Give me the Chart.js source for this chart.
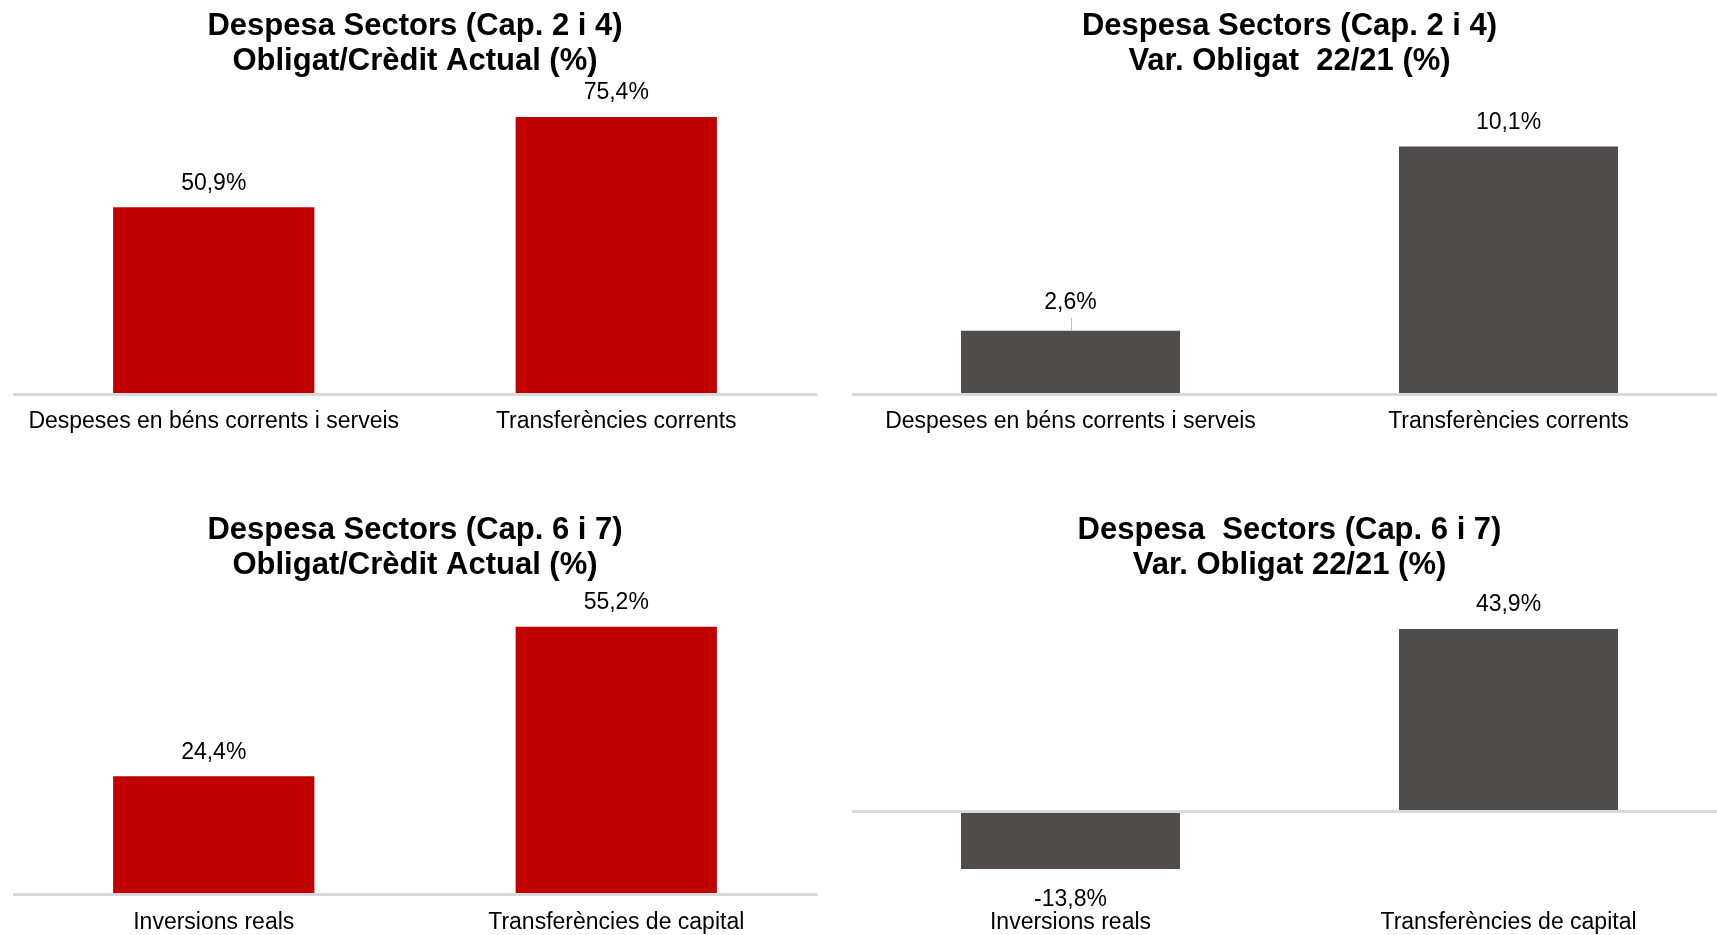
<!DOCTYPE html>
<html>
<head>
<meta charset="utf-8">
<script src="https://cdn.jsdelivr.net/npm/chart.js@4.4.1/dist/chart.umd.min.js"></script>
<style>
  html, body { margin: 0; padding: 0; background: #ffffff; overflow: hidden; width: 1717px; height: 935px; }
  canvas { position: absolute; }
</style>
</head>
<body>
<canvas id="c1" width="845" height="467" style="left:0px;top:0px;"></canvas>
<canvas id="c2" width="890" height="467" style="left:845px;top:0px;"></canvas>
<canvas id="c3" width="845" height="490" style="left:0px;top:467px;"></canvas>
<canvas id="c4" width="890" height="490" style="left:845px;top:467px;"></canvas>
<script>
// ---- Data ----
const categoriesCap24 = ['Despeses en béns corrents i serveis', 'Transferències corrents'];
const categoriesCap67 = ['Inversions reals', 'Transferències de capital'];
const obligatCreditCap24 = [50.9, 75.4];
const varObligatCap24 = [2.6, 10.1];
const obligatCreditCap67 = [24.4, 55.2];
const varObligatCap67 = [-13.8, 43.9];
const titleTL = ['Despesa Sectors (Cap. 2 i 4)', 'Obligat/Crèdit Actual (%)'];
const titleTR = ['Despesa Sectors (Cap. 2 i 4)', 'Var. Obligat  22/21 (%)'];
const titleBL = ['Despesa Sectors (Cap. 6 i 7)', 'Obligat/Crèdit Actual (%)'];
const titleBR = ['Despesa  Sectors (Cap. 6 i 7)', 'Var. Obligat 22/21 (%)'];

const RED = '#C00000';
const GREY = '#504C4C';
const FONT = '"Liberation Sans", Arial, Helvetica, sans-serif';

Chart.defaults.font.family = FONT;
Chart.defaults.color = '#000000';

function fmt(v) { return v.toFixed(1).replace('.', ',') + '%'; }

const valueLabels = {
  id: 'valueLabels',
  afterDatasetsDraw(chart, args, opts) {
    const ctx = chart.ctx;
    const meta = chart.getDatasetMeta(0);
    const data = chart.data.datasets[0].data;
    ctx.save();
    ctx.font = '23px ' + FONT;
    ctx.fillStyle = '#000000';
    ctx.textAlign = 'center';
    ctx.textBaseline = 'middle';
    meta.data.forEach((bar, i) => {
      const v = data[i];
      const lift = (opts.lifts && opts.lifts[i]) || 0;
      const y = v >= 0 ? bar.y - 24 - lift : bar.y + 31;
      if (lift) {
        ctx.strokeStyle = '#bfbfbf';
        ctx.lineWidth = 1;
        ctx.beginPath();
        ctx.moveTo(Math.round(bar.x) + 0.5, y + 15);
        ctx.lineTo(Math.round(bar.x) + 0.5, bar.y);
        ctx.stroke();
      }
      ctx.fillText(fmt(v), bar.x, y);
    });
    ctx.restore();
  }
};

function makeChart(id, cfg) {
  return new Chart(document.getElementById(id), {
    type: 'bar',
    data: {
      labels: cfg.labels,
      datasets: [{
        data: cfg.values,
        backgroundColor: cfg.color,
        borderWidth: 0,
        barPercentage: 0.5,
        categoryPercentage: 1.0
      }]
    },
    options: {
      responsive: false,
      devicePixelRatio: 1,
      animation: false,
      layout: { padding: cfg.pad },
      plugins: {
        legend: { display: false },
        tooltip: { enabled: false },
        title: {
          display: true,
          text: cfg.title,
          color: '#000000',
          font: { size: 31, weight: 'bold', lineHeight: 35 / 31 },
          padding: { top: cfg.titlePadTop, bottom: cfg.titlePadBottom }
        },
        valueLabels: { lifts: cfg.lifts || [] }
      },
      scales: {
        x: {
          grid: { display: false, drawTicks: false },
          border: { display: false },
          ticks: {
            color: '#000000',
            font: { size: 23 },
            padding: cfg.tickPad,
            maxRotation: 0,
            autoSkip: false
          }
        },
        y: {
          min: cfg.ymin,
          max: cfg.ymax,
          display: true,
          afterBuildTicks: (s) => { s.ticks = [{ value: 0 }]; },
          ticks: { display: false },
          border: { display: false },
          grid: {
            drawTicks: false,
            color: '#d9d9d9',
            lineWidth: 3
          }
        }
      }
    },
    plugins: [valueLabels]
  });
}

// Top-left: zero at 394.5, top at 90, 3.68 px/unit
makeChart('c1', {
  labels: categoriesCap24, values: obligatCreditCap24, color: RED, title: titleTL,
  pad: { left: 12.5, right: 27.5, top: 0, bottom: 18.5 },
  titlePadTop: 8.5, titlePadBottom: 11.5,
  ymin: 0, ymax: (394.5 - 90) / 3.68, tickPad: 13.2
});
// Top-right: zero at 394.5, top at 90, 24.55 px/unit
makeChart('c2', {
  labels: categoriesCap24, values: varObligatCap24, color: GREY, title: titleTR,
  pad: { left: 6.5, right: 7.5, top: 0, bottom: 18.5 },
  titlePadTop: 8.5, titlePadBottom: 11.5,
  ymin: 0, ymax: (394.5 - 90) / 24.55, tickPad: 13.2, lifts: [4, 0]
});
// Bottom-left: zero at rel 427.5, top rel 130, 4.85 px/unit
makeChart('c3', {
  labels: categoriesCap67, values: obligatCreditCap67, color: RED, title: titleBL,
  pad: { left: 12.5, right: 27.5, top: 0, bottom: 6.1 },
  titlePadTop: 45.5, titlePadBottom: 14.5,
  ymin: 0, ymax: (427.5 - 130) / 4.85, tickPad: 14.4
});
// Bottom-right: zero at rel 344.5, top rel 130, bottom rel 433.5, 4.16 px/unit
makeChart('c4', {
  labels: categoriesCap67, values: varObligatCap67, color: GREY, title: titleBR,
  pad: { left: 6.5, right: 7.5, top: 0, bottom: 12.1 },
  titlePadTop: 45.5, titlePadBottom: 14.5,
  ymin: -(433.5 - 344.5) / 4.16, ymax: (344.5 - 130) / 4.16, tickPad: 8.4
});
</script>
</body>
</html>
